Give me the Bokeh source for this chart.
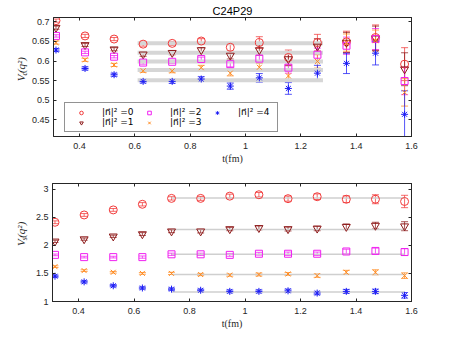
import math
from bokeh.plotting import figure
from bokeh.models import (ColumnDataSource, Whisker, TeeHead, Legend, LegendItem,
                          LinearAxis, FixedTicker, Range1d)
from bokeh.core.properties import value
from bokeh.layouts import column, row
from bokeh.embed import file_html
from bokeh.resources import INLINE

# ---------------- data ----------------
t_fm = [0.315, 0.42, 0.525, 0.63, 0.735, 0.84, 0.945, 1.05, 1.155, 1.26, 1.365, 1.47, 1.575]
series_labels = ["|n\u20d7|\u00b2 =0", "|n\u20d7|\u00b2 =1", "|n\u20d7|\u00b2 =2",
                 "|n\u20d7|\u00b2 =3", "|n\u20d7|\u00b2 =4"]
series_colors = ["#f23a3a", "#8e1b1b", "#f020f0", "#ff8a1f", "#1c1cf5"]
series_markers = ["circle", "inverted_triangle", "square", "x", "asterisk"]

vc_n0 = [0.703, 0.664, 0.656, 0.643, 0.645, 0.651, 0.635, 0.647, 0.609, 0.647, 0.649, 0.660, 0.592]
vc_n1 = [0.685, 0.641, 0.630, 0.617, 0.621, 0.628, 0.614, 0.628, 0.605, 0.637, 0.647, 0.658, 0.579]
vc_n2 = [0.664, 0.622, 0.611, 0.596, 0.598, 0.605, 0.592, 0.606, 0.583, 0.616, 0.639, 0.656, 0.549]
vc_n3 = [0.647, 0.603, 0.590, 0.575, 0.575, 0.583, 0.569, 0.584, 0.562, 0.599, 0.647, 0.652, 0.520]
vc_n4 = [0.628, 0.581, 0.565, 0.548, 0.548, 0.554, 0.536, 0.557, 0.530, 0.569, 0.594, 0.620, 0.464]
vc_e0 = [0.004, 0.004, 0.004, 0.005, 0.005, 0.006, 0.010, 0.015, 0.019, 0.021, 0.027, 0.032, 0.042]
vc_e1 = [0.004, 0.004, 0.004, 0.005, 0.005, 0.006, 0.009, 0.013, 0.017, 0.020, 0.026, 0.031, 0.042]
vc_e2 = [0.003, 0.003, 0.003, 0.004, 0.004, 0.005, 0.007, 0.010, 0.014, 0.017, 0.022, 0.027, 0.035]
vc_e3 = [0.004, 0.004, 0.004, 0.004, 0.005, 0.006, 0.007, 0.010, 0.013, 0.017, 0.022, 0.027, 0.035]
vc_e4 = [0.004, 0.004, 0.004, 0.004, 0.005, 0.006, 0.008, 0.011, 0.015, 0.020, 0.026, 0.030, 0.060]

vs_n0 = [2.41, 2.54, 2.63, 2.73, 2.835, 2.835, 2.875, 2.90, 2.83, 2.865, 2.82, 2.82, 2.78]
vs_n1 = [2.07, 2.11, 2.16, 2.20, 2.25, 2.25, 2.29, 2.31, 2.29, 2.30, 2.33, 2.35, 2.34]
vs_n2 = [1.83, 1.79, 1.79, 1.79, 1.84, 1.84, 1.83, 1.85, 1.85, 1.85, 1.89, 1.90, 1.88]
vs_n3 = [1.62, 1.55, 1.52, 1.50, 1.50, 1.48, 1.47, 1.48, 1.49, 1.46, 1.52, 1.52, 1.46]
vs_n4 = [1.45, 1.35, 1.28, 1.24, 1.22, 1.20, 1.18, 1.18, 1.19, 1.15, 1.18, 1.18, 1.11]
vs_e0 = [0.025, 0.025, 0.025, 0.03, 0.03, 0.035, 0.035, 0.04, 0.045, 0.05, 0.06, 0.08, 0.11]
vs_e1 = [0.02, 0.02, 0.02, 0.025, 0.025, 0.03, 0.03, 0.035, 0.035, 0.04, 0.05, 0.06, 0.08]
vs_e2 = [0.015, 0.015, 0.015, 0.02, 0.02, 0.02, 0.025, 0.025, 0.03, 0.03, 0.04, 0.05, 0.06]
vs_e3 = [0.015, 0.015, 0.015, 0.015, 0.02, 0.02, 0.02, 0.025, 0.025, 0.03, 0.035, 0.045, 0.05]
vs_e4 = [0.02, 0.02, 0.02, 0.02, 0.02, 0.02, 0.025, 0.025, 0.03, 0.03, 0.035, 0.04, 0.05]

fit_vc = [0.645, 0.621, 0.599, 0.577, 0.551]
fit_vc_t = [0.61, 1.28]
fit_vs = [2.84, 2.28, 1.84, 1.48, 1.17]
fit_vs_t = [0.735, 1.575]

x_ticks = [0.4, 0.6, 0.8, 1.0, 1.2, 1.4, 1.6]
x_tick_labels = ["0.4", "0.6", "0.8", "1", "1.2", "1.4", "1.6"]
vc_ticks = [0.45, 0.5, 0.55, 0.6, 0.65, 0.7]
vc_tick_labels = ["0.45", "0.5", "0.55", "0.6", "0.65", "0.7"]
vs_ticks = [1.0, 1.5, 2.0, 2.5, 3.0]
vs_tick_labels = ["1", "1.5", "2", "2.5", "3"]

title_text = "C24P29"
x_label = "t(fm)"
vc_label_parts = ["V", "c", "(q\u00b2)"]
vs_label_parts = ["V", "s", "(q\u00b2)"]

# ---------------- layout ----------------
X_RANGE = (0.306, 1.6)
AX = "#262626"
SANS = "Liberation Sans"
SERIF = "Liberation Serif"
LW = 28  # width of the y-label strip


def style_axes(p, ticks, labels_y):
    tx = FixedTicker(ticks=x_ticks)
    ty = FixedTicker(ticks=ticks)
    for ax in p.xaxis:
        ax.ticker = tx
        ax.major_label_overrides = {v: s for v, s in zip(x_ticks, x_tick_labels)}
    for ax in p.yaxis:
        ax.ticker = ty
        ax.major_label_overrides = {v: s for v, s in zip(ticks, labels_y)}
    for ax in p.xaxis + p.yaxis:
        ax.major_tick_in = 3
        ax.major_tick_out = 0
        ax.minor_tick_line_color = None
        ax.axis_line_color = AX
        ax.major_tick_line_color = AX
        ax.major_label_text_color = AX
        ax.major_label_text_font = SANS
        ax.major_label_text_font_size = "9px"
        ax.major_label_standoff = 4
    p.xaxis.major_label_standoff = 6
    p.xaxis.axis_label = x_label
    p.xaxis.axis_label_text_font = SERIF
    p.xaxis.axis_label_text_font_style = "normal"
    p.xaxis.axis_label_text_font_size = "10px"
    p.xaxis.axis_label_text_color = AX
    p.xaxis.axis_label_standoff = 1
    top = LinearAxis(ticker=tx, major_label_overrides={v: "" for v in x_ticks},
                     major_tick_in=3, major_tick_out=0, minor_tick_line_color=None,
                     major_label_standoff=0, axis_line_color=AX, major_tick_line_color=AX)
    right = LinearAxis(ticker=ty, major_label_overrides={v: "" for v in ticks},
                       major_tick_in=3, major_tick_out=0, minor_tick_line_color=None,
                       major_label_standoff=0, axis_line_color=AX, major_tick_line_color=AX)
    p.add_layout(top, "above")
    p.add_layout(right, "right")
    p.grid.visible = False
    p.outline_line_color = AX


def draw_series(p, ys, errs, fits, fit_t, band_width, band_color):
    for f in fits:
        p.line(x=fit_t, y=[f, f], line_color=band_color, line_width=band_width)
    rends = []
    for y, e, c, m in zip(ys, errs, series_colors, series_markers):
        src = ColumnDataSource(dict(x=t_fm, y=y,
                                    lo=[a - b for a, b in zip(y, e)],
                                    hi=[a + b for a, b in zip(y, e)]))
        w = Whisker(base="x", lower="lo", upper="hi", source=src, dimension="height",
                    line_color=c, line_alpha=0.75, line_width=1,
                    upper_head=TeeHead(size=7, line_color=c, line_alpha=0.75, line_width=1),
                    lower_head=TeeHead(size=7, line_color=c, line_alpha=0.75, line_width=1))
        p.add_layout(w)
        size = 8 if m in ("circle", "inverted_triangle") else 7
        r = p.scatter(x="x", y="y", source=src, marker=m, size=size,
                      fill_color=None, line_color=c, line_width=1)
        rends.append(r)
    return rends


def label_strip(height, parts, starts):
    f = figure(width=LW, height=height, output_backend="svg", toolbar_location=None,
               x_range=Range1d(0, LW), y_range=Range1d(0, height),
               min_border=0, min_border_left=0, min_border_right=0,
               min_border_top=0, min_border_bottom=0)
    f.axis.visible = False
    f.grid.visible = False
    f.outline_line_color = None
    xs = [20.5, 23.5, 20.5]
    sizes = ["11px", "8px", "11px"]
    for t, x, y, s in zip(parts, xs, starts, sizes):
        f.text(x=[x], y=[y], text=[t], angle=math.pi / 2, text_align="left",
               text_baseline="middle", text_font=value(SERIF), text_font_style="italic",
               text_font_size=s, text_color=AX)
    return f


# ---- top panel ----
H1 = 168
p1 = figure(width=447 - LW, height=H1, output_backend="svg", toolbar_location=None,
            x_range=Range1d(*X_RANGE), y_range=Range1d(0.4074, 0.711),
            min_border_left=52 - LW, min_border_right=36, min_border_top=17, min_border_bottom=32)
p1.title.text = title_text
p1.title.align = "center"
p1.title.text_font = SANS
p1.title.text_font_style = "normal"
p1.title.text_font_size = "11px"
p1.title.text_color = "black"
p1.title.standoff = 1
style_axes(p1, vc_ticks, vc_tick_labels)
r1 = draw_series(p1, [vc_n0, vc_n1, vc_n2, vc_n3, vc_n4],
                 [vc_e0, vc_e1, vc_e2, vc_e3, vc_e4], fit_vc, fit_vc_t, 4, "#d6d6d6")

legend = Legend(items=[LegendItem(label=l, renderers=[r]) for l, r in zip(series_labels, r1)],
                location=(11, 4), orientation="vertical", nrows=2, margin=0,
                glyph_width=24, glyph_height=9, label_height=9, label_width=35,
                label_standoff=9, spacing=0, padding=4,
                label_text_font="DejaVu Sans", label_text_font_size="9px",
                label_text_color="black", label_text_line_height=1.0,
                border_line_color=AX, border_line_width=1, background_fill_color="white",
                background_fill_alpha=1)
p1.add_layout(legend, "center")
s1 = label_strip(H1, vc_label_parts, [78, 86, 89.5])

# ---- bottom panel ----
H2 = 164
p2 = figure(width=447 - LW, height=H2, output_backend="svg", toolbar_location=None,
            x_range=Range1d(*X_RANGE), y_range=Range1d(1.0, 3.1),
            min_border_left=52 - LW, min_border_right=36, min_border_top=15, min_border_bottom=31)
style_axes(p2, vs_ticks, vs_tick_labels)
draw_series(p2, [vs_n0, vs_n1, vs_n2, vs_n3, vs_n4],
            [vs_e0, vs_e1, vs_e2, vs_e3, vs_e4], fit_vs, fit_vs_t, 1.5, "#cfcfcf")
s2 = label_strip(H2, vs_label_parts, [77, 85, 88.5])

layout = column(row(s1, p1, spacing=0), row(s2, p2, spacing=0), spacing=0)
open("out.html", "w").write(file_html(layout, INLINE))
